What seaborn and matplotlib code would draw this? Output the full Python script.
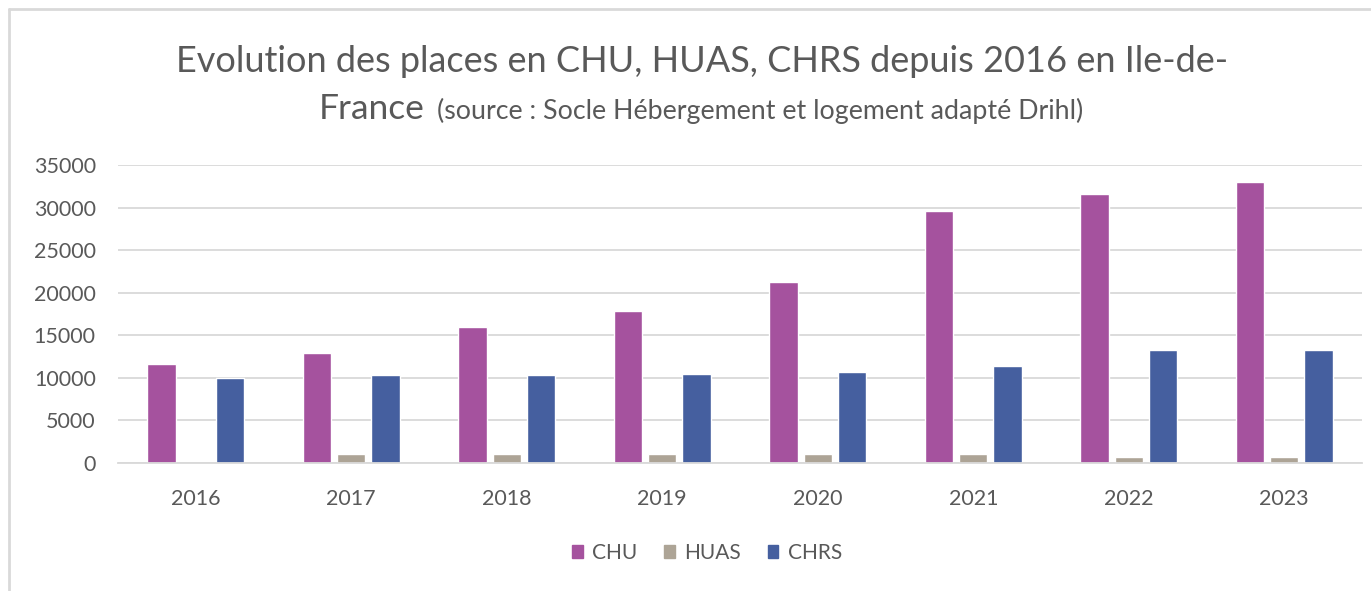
import pandas as pd
import seaborn as sns
import matplotlib
matplotlib.use('Agg')
import matplotlib.pyplot as plt
from matplotlib.lines import Line2D

years = ['2016', '2017', '2018', '2019', '2020', '2021', '2022', '2023']
chu = [11600, 12950, 16000, 17800, 21200, 29600, 31600, 33050]
huas = [0, 1100, 1100, 1100, 1100, 1000, 650, 650]
chrs = [10000, 10300, 10300, 10500, 10700, 11450, 13250, 13250]
series = ['CHU', 'HUAS', 'CHRS']
colors = ['#A5529E', '#ADA496', '#455F9F']

df = pd.DataFrame({'year': years, 'CHU': chu, 'HUAS': huas, 'CHRS': chrs})
df = df.melt(id_vars='year', var_name='type', value_name='places')

sns.set_theme(style='white')
plt.rcParams['font.family'] = ['Lato', 'DejaVu Sans']
grey = '#595959'

W, H = 1371, 591
fig = plt.figure(figsize=(W / 100, H / 100), dpi=100)
ax = fig.add_axes([118 / W, 1 - 463 / H, (1362 - 118) / W, (463 - 165) / H])

sns.barplot(data=df, x='year', y='places', hue='type', hue_order=series,
            palette=colors, width=0.66, gap=0.17, ax=ax, legend=False,
            saturation=1)

ax.set_ylim(0, 35000)
ax.set_yticks(range(0, 35001, 5000))
ax.set_xlim(-0.5, len(years) - 0.5)
ax.yaxis.grid(True, color='#D9D9D9', linewidth=1.3)
ax.set_axisbelow(True)
for s in ['top', 'right', 'left']:
    ax.spines[s].set_visible(False)
ax.spines['bottom'].set_color('#D9D9D9')
ax.spines['bottom'].set_linewidth(1.3)
ax.tick_params(axis='y', length=0, labelsize=15.5, labelcolor=grey, pad=16)
ax.tick_params(axis='x', length=0, labelsize=15.5, labelcolor=grey, pad=19)
ax.set_xlabel('')
ax.set_ylabel('')

# title (two lines, second with smaller source note)
fig.text(702 / W, 1 - 61 / H, 'Evolution des places en CHU, HUAS, CHRS depuis 2016 en Ile-de-',
         ha='center', va='center', fontsize=26, color=grey)
fig.text(425 / W, 1 - 109 / H, 'France', ha='right', va='center',
         fontsize=25.5, color=grey)
fig.text(437 / W, 1 - 111 / H, '(source : Socle Hébergement et logement adapté Drihl)',
         ha='left', va='center', fontsize=19.3, color=grey)

handles = [plt.Rectangle((0, 0), 1, 1, color=c) for c in colors]
fig.legend(handles, series, loc='center', bbox_to_anchor=(707 / W, 1 - 553 / H),
           ncol=3, frameon=False, fontsize=15, labelcolor=grey,
           handlelength=0.5, handleheight=0.55, handletextpad=0.45, columnspacing=1.3)

# chart border
fig.add_artist(Line2D([9 / W, 1], [1 - 9 / H, 1 - 9 / H], color='#D9D9D9', linewidth=2))
fig.add_artist(Line2D([9 / W, 9 / W], [0, 1 - 9 / H], color='#D9D9D9', linewidth=2))

fig.savefig('out.png', dpi=100, facecolor='white')
